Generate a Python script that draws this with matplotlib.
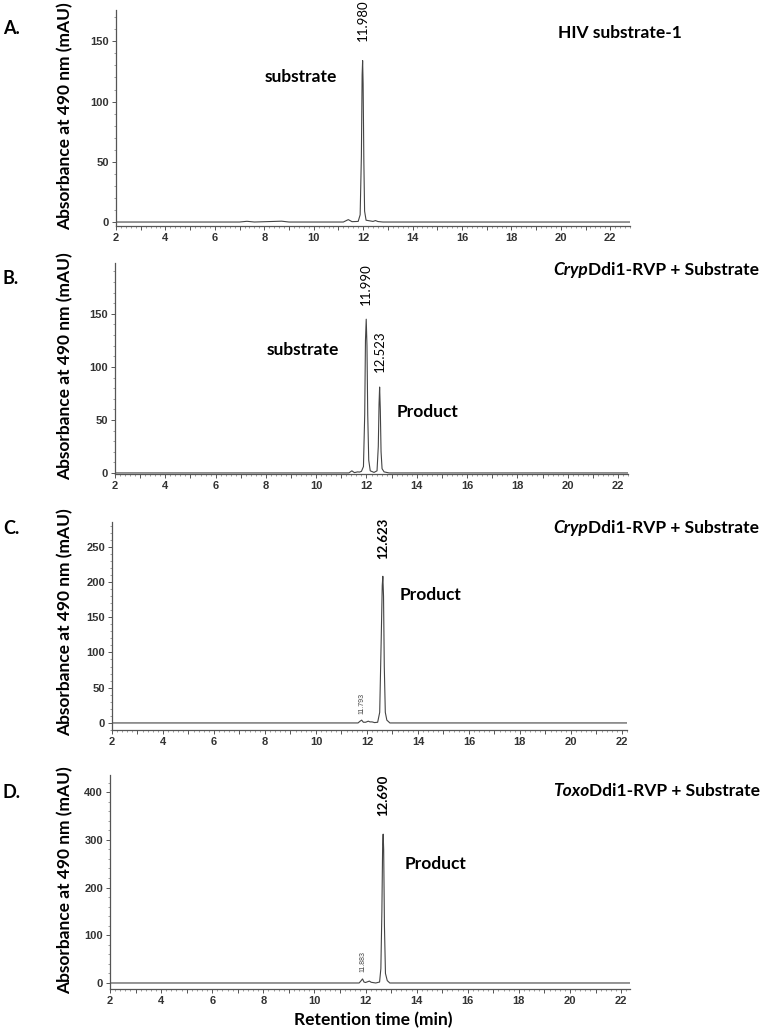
import matplotlib
matplotlib.use("Agg")
import matplotlib.pyplot as plt
from matplotlib.ticker import MultipleLocator, FuncFormatter

# traces (time in min, absorbance in mAU)
a_time = [2.0, 7.0, 7.3, 7.6, 8.4, 8.7, 9.0, 11.2, 11.4, 11.55, 11.8, 11.88, 11.93, 11.96,
          11.98, 12.0, 12.03, 12.06, 12.12, 12.4, 12.5, 12.6, 12.8, 22.8]
a_abs = [0, 0, 0.6, 0, 0.5, 0.7, 0, 0, 2.0, 0.3, 0.5, 6, 55, 122,
         134, 115, 50, 9, 1.5, 0.5, 1.2, 0.4, 0, 0]

b_time = [2.0, 11.3, 11.42, 11.52, 11.65, 11.72, 11.8, 11.88, 11.93, 11.96, 11.99, 12.02,
          12.05, 12.09, 12.15, 12.3, 12.42, 12.47, 12.5, 12.523, 12.55, 12.58, 12.62, 12.7,
          12.9, 22.4]
b_abs = [0, 0, 2.0, 0.3, 1.0, 0.8, 1.5, 6, 55, 125, 145, 120,
         55, 12, 2, 0.5, 2, 25, 65, 81, 60, 20, 4, 1,
         0, 0]

c_time = [2.0, 11.65, 11.73, 11.793, 11.86, 11.95, 12.05, 12.12, 12.2, 12.3, 12.42, 12.5,
          12.56, 12.6, 12.623, 12.65, 12.68, 12.72, 12.78, 12.9, 22.2]
c_abs = [0, 0, 2.5, 4.0, 1.0, 1.0, 2.5, 1.5, 1.5, 0.5, 1, 15,
         120, 195, 208, 180, 80, 15, 4, 0, 0]

d_time = [2.0, 11.75, 11.83, 11.883, 11.94, 12.0, 12.1, 12.15, 12.22, 12.4, 12.55, 12.6,
          12.64, 12.67, 12.69, 12.71, 12.74, 12.78, 12.85, 12.95, 22.35]
d_abs = [0, 0, 5, 8.5, 2, 1, 3, 4, 1.5, 0, 2, 30,
         150, 290, 312, 280, 120, 20, 5, 0, 0]

letters = ["A.", "B.", "C.", "D."]
titles = [("", "HIV substrate-1"), ("Cryp", "Ddi1-RVP + Substrate"),
          ("Cryp", "Ddi1-RVP + Substrate"), ("Toxo", "Ddi1-RVP + Substrate")]

W, H = 763, 1032
fig = plt.figure(figsize=(W / 100, H / 100), dpi=100)
FONT = "Lato"


def box(l, r, t, b):
    return [l / W, 1 - b / H, (r - l) / W, (b - t) / H]


def fx(px):
    return px / W


def fy(py):
    return 1 - py / H


def even_only(v, pos):
    return "%d" % v if abs(v - round(v)) < 1e-6 and int(round(v)) % 2 == 0 else ""


def style(ax, xlim, ylim, ymajor, yminor):
    ax.set_xlim(*xlim)
    ax.set_ylim(*ylim)
    for s in ["top", "right"]:
        ax.spines[s].set_visible(False)
    for s in ["left", "bottom"]:
        ax.spines[s].set_color("#555555")
        ax.spines[s].set_linewidth(0.9)
    ax.xaxis.set_major_locator(MultipleLocator(1))
    ax.xaxis.set_minor_locator(MultipleLocator(0.2))
    ax.xaxis.set_major_formatter(FuncFormatter(even_only))
    ax.yaxis.set_major_locator(MultipleLocator(ymajor))
    ax.yaxis.set_minor_locator(MultipleLocator(yminor))
    ax.tick_params(which="major", length=3, width=0.7, color="#555555",
                   labelsize=8, labelcolor="#333333", pad=2)
    ax.tick_params(which="minor", length=1.5, width=0.5, color="#777777")
    for lab in ax.get_xticklabels() + ax.get_yticklabels():
        lab.set_family("Liberation Sans")
        lab.set_fontweight("bold")


# axes boxes in pixel coordinates
axA = fig.add_axes(box(116, 630, 10, 226))
axB = fig.add_axes(box(115, 628, 263, 474))
axC = fig.add_axes(box(112, 627, 522, 730))
axD = fig.add_axes(box(110, 630, 775, 989))

line_kw = dict(color="#444444", lw=0.8)
axA.plot(a_time, a_abs, **line_kw)
axB.plot(b_time, b_abs, **line_kw)
axC.plot(c_time, c_abs, **line_kw)
axD.plot(d_time, d_abs, **line_kw)

style(axA, (2, 22.8), (-3.3, 176), 50, 10)
style(axB, (2, 22.4), (-1, 198), 50, 10)
style(axC, (2, 22.2), (-10, 285), 50, 10)
style(axD, (2, 22.35), (-12.6, 436), 100, 20)

# peak labels
pk = dict(rotation=90, ha="center", va="bottom", family=FONT, fontsize=9.5)
axA.text(11.98, 150, "11.980", clip_on=False, **pk)
axB.text(11.99, 158, "11.990", **pk)
axB.text(12.523, 95, "12.523", **pk)
axC.text(12.623, 233, "12.623", fontweight="bold", **pk)
axD.text(12.69, 350, "12.690", fontweight="bold", **pk)
sm = dict(rotation=90, ha="center", va="bottom", family="Liberation Sans",
          fontsize=5, color="#444444")
axC.text(11.793, 13, "11.793", **sm)
axD.text(11.883, 22, "11.883", **sm)

# peak names
nm = dict(family=FONT, fontsize=12.5, fontweight="bold", ha="left", va="center")
fig.text(fx(265), fy(77), "substrate", **nm)
fig.text(fx(267), fy(350), "substrate", **nm)
fig.text(fx(397), fy(412), "Product", **nm)
fig.text(fx(400), fy(595), "Product", **nm)
fig.text(fx(405), fy(864), "Product", **nm)

# panel letters, titles and y labels
letter_y = [28, 278, 529, 792]
title_y = [33, 270, 528, 791]
ylab_y = [116, 366, 622, 880]
for i in range(4):
    fig.text(fx(3), fy(letter_y[i]), letters[i], family=FONT, fontsize=13,
             fontweight="bold", ha="left", va="center")
    it, rest = titles[i]
    x0 = 558 if i == 0 else 553
    if it:
        t = fig.text(fx(x0), fy(title_y[i]), it, family=FONT, fontsize=12.5,
                     fontweight="bold", style="italic", ha="left", va="center")
        fig.canvas.draw()
        bb = t.get_window_extent()
        fig.text(bb.x1 / W, fy(title_y[i]), rest, family=FONT, fontsize=12.5,
                 fontweight="bold", ha="left", va="center")
    else:
        fig.text(fx(x0), fy(title_y[i]), rest, family=FONT, fontsize=12.5,
                 fontweight="bold", ha="left", va="center")
    fig.text(fx(65), fy(ylab_y[i]), "Absorbance at 490 nm (mAU)", family=FONT,
             fontsize=12.5, fontweight="bold", rotation=90, ha="center", va="center")

fig.text(fx(373), fy(1020), "Retention time (min)", family=FONT, fontsize=12.5,
         fontweight="bold", ha="center", va="center")

fig.savefig("out.png", dpi=100)
